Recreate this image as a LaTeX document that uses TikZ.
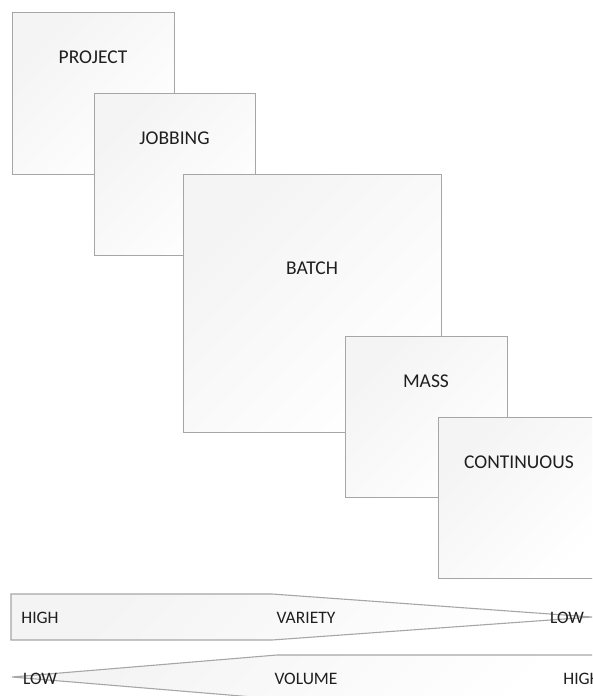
\documentclass[tikz,border=0pt]{standalone}
\usepackage{fontspec}
\setmainfont{Carlito}
\begin{document}
\begin{tikzpicture}[x=1pt,y=-1pt,
  shade/.style={top color=gray!9, bottom color=white, shading angle=45},
  stagebox/.style={shade, draw=gray!70, line width=1.1pt, rectangle,
    anchor=north west, inner sep=0pt},
  stagelbl/.style={text=black!88, font=\fontsize{19.5}{22}\selectfont, inner sep=0pt},
  scalelbl/.style={text=black!88, font=\fontsize{17.5}{20}\selectfont, inner sep=0pt},
  scaleshape/.style={shade, draw=gray!70, line width=1.1pt, line join=miter}]
\useasboundingbox (0,0) rectangle (592,696);
\clip (0,0) rectangle (592,696);

% Process types, each overlapping the previous one
\node[stagebox, minimum width=162pt, minimum height=162pt] (project) at (12,12) {};
\node[stagelbl] (projectlbl) at (93,57) {PROJECT};
\node[stagebox, minimum width=161pt, minimum height=162pt] (jobbing) at (94,93) {};
\node[stagelbl] (jobbinglbl) at (174.5,138) {JOBBING};
\node[stagebox, minimum width=258pt, minimum height=258pt] (batch) at (183,174) {};
\node[stagelbl] (batchlbl) at (312,268) {BATCH};
\node[stagebox, minimum width=162pt, minimum height=161pt] (mass) at (345,336) {};
\node[stagelbl] (masslbl) at (426,381) {MASS};
\node[stagebox, minimum width=162pt, minimum height=161pt] (continuous) at (438,417) {};
\node[stagelbl] (continuouslbl) at (519,462) {CONTINUOUS};

% Variety scale: high on the left, narrowing to low on the right
\path[scaleshape] (11,594) -- (272,594) -- (592,617) -- (272,640) -- (11,640) -- cycle;
\node[scalelbl] (varhigh) at (40,618) {HIGH};
\node[scalelbl] (variety) at (306,618) {VARIETY};
\node[scalelbl] (varlow) at (567,618) {LOW};

% Volume scale: low on the left, widening to high on the right
\path[scaleshape] (12,677) -- (277,655) -- (610,655) -- (610,699) -- (277,699) -- cycle;
\node[scalelbl] (vollow) at (40,679) {LOW};
\node[scalelbl] (volume) at (306,679) {VOLUME};
\node[scalelbl] (volhigh) at (582,679) {HIGH};
\end{tikzpicture}
\end{document}
